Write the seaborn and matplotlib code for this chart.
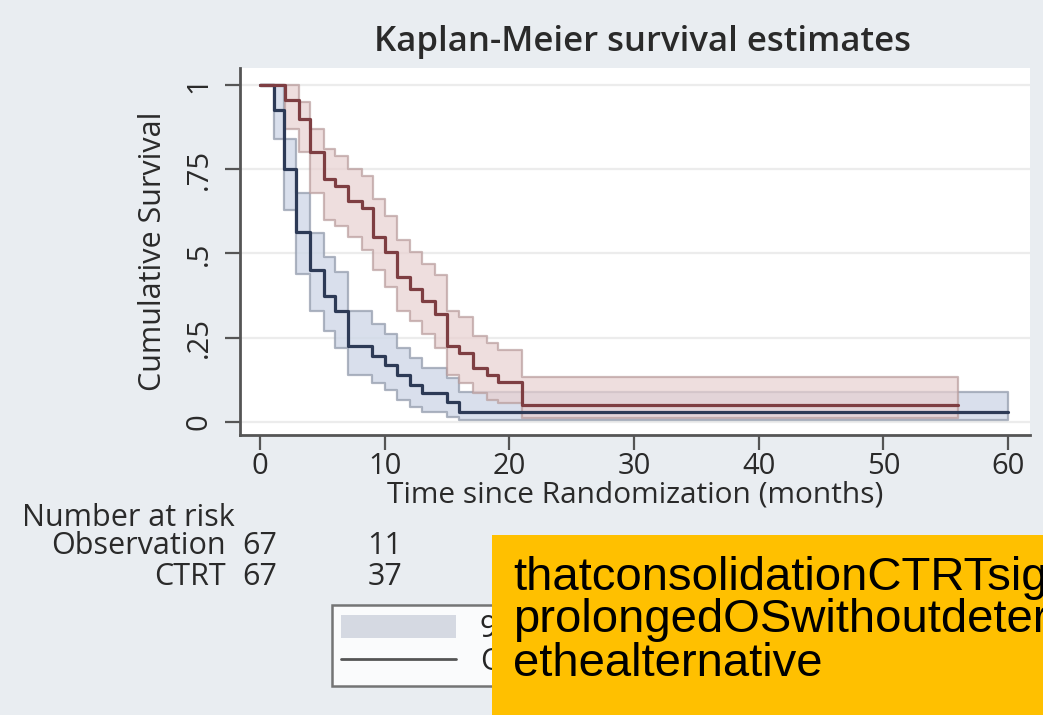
import numpy as np
import pandas as pd
import matplotlib
matplotlib.use("Agg")
import matplotlib.pyplot as plt
import seaborn as sns
from matplotlib.patches import Patch, Rectangle
from matplotlib.lines import Line2D
from matplotlib.transforms import blended_transform_factory

# Observation arm (blue) - step times, survival, 95% CI
obs_time = [0, 1.1, 1.9, 2.9, 4.0, 5.1, 6.0, 7.1, 9.0, 10.0, 11.0, 12.0, 13.0, 15.0, 16.0, 60]
obs_surv = [1.0, 0.925, 0.75, 0.565, 0.45, 0.375, 0.33, 0.225, 0.195, 0.17, 0.14, 0.11, 0.085, 0.06, 0.03, 0.03]
obs_low = [1.0, 0.84, 0.63, 0.44, 0.33, 0.27, 0.22, 0.14, 0.115, 0.095, 0.065, 0.045, 0.03, 0.015, 0.005, 0.005]
obs_up = [1.0, 1.0, 0.84, 0.68, 0.56, 0.49, 0.445, 0.33, 0.29, 0.26, 0.22, 0.19, 0.16, 0.13, 0.09, 0.09]

# CTRT arm (red)
ctrt_time = [0, 2.0, 3.1, 4.0, 5.1, 6.0, 7.1, 8.2, 9.1, 10.0, 11.0, 12.0, 13.0, 14.0, 15.0, 16.0, 17.1, 18.2, 19.1, 21.0, 56]
ctrt_surv = [1.0, 0.955, 0.90, 0.80, 0.72, 0.70, 0.655, 0.635, 0.55, 0.505, 0.43, 0.395, 0.36, 0.32, 0.225, 0.205, 0.16, 0.14, 0.12, 0.05, 0.05]
ctrt_low = [1.0, 0.87, 0.80, 0.68, 0.60, 0.58, 0.55, 0.51, 0.45, 0.40, 0.33, 0.30, 0.26, 0.22, 0.14, 0.115, 0.085, 0.065, 0.055, 0.012, 0.012]
ctrt_up = [1.0, 1.0, 0.95, 0.87, 0.81, 0.79, 0.75, 0.73, 0.66, 0.61, 0.54, 0.505, 0.47, 0.435, 0.33, 0.31, 0.255, 0.235, 0.215, 0.133, 0.133]

risk_times = [0, 10]
risk_obs = [67, 11]
risk_ctrt = [67, 37]

x_ticks = [0, 10, 20, 30, 40, 50, 60]
y_ticks = [0, 0.25, 0.5, 0.75, 1]
y_ticklabels = ["0", ".25", ".5", ".75", "1"]

note_lines = ["thatconsolidationCTRTsig", "prolongedOSwithoutdeter", "ethealternative"]

df = pd.concat([
    pd.DataFrame({"time": obs_time, "surv": obs_surv, "group": "Observation"}),
    pd.DataFrame({"time": ctrt_time, "surv": ctrt_surv, "group": "CTRT"}),
])

bg = "#e9edf1"
txt = "#2a2a2a"
fs = 22
sns.set_style("white")
plt.rcParams["font.family"] = ["Open Sans", "DejaVu Sans"]

fig = plt.figure(figsize=(10.43, 7.15), dpi=100, facecolor=bg)
ax = fig.add_axes([240 / 1043, 1 - 435 / 715, 790 / 1043, 367 / 715])
ax.set_facecolor("white")

# confidence bands
ax.fill_between(obs_time, obs_low, obs_up, step="post", facecolor="#d0d8e8",
                edgecolor="#9aa2b2", lw=1.6, alpha=0.8, zorder=2)
ax.fill_between(ctrt_time, ctrt_low, ctrt_up, step="post", facecolor="#e8d0d0",
                edgecolor="#b89c9c", lw=1.6, alpha=0.7, zorder=3)

sns.lineplot(data=df, x="time", y="surv", hue="group",
             palette={"Observation": "#2d3a56", "CTRT": "#7e3e42"},
             drawstyle="steps-post", lw=2.3, legend=False, ax=ax, zorder=4)

ax.set_xlim(-1.6, 61.76)
ax.set_ylim(-0.0386, 1.05)
ax.set_xticks(x_ticks)
ax.set_yticks(y_ticks)
ax.set_yticklabels(y_ticklabels, rotation=90, va="center")
ax.tick_params(axis="both", direction="out", length=11, width=1.6, color="#555555",
               labelsize=21, labelcolor=txt, left=True, bottom=True, pad=1)
ax.tick_params(axis="y", pad=8)
ax.yaxis.grid(True, color="#ececec", lw=1.6)
for s in ["top", "right"]:
    ax.spines[s].set_visible(False)
for s in ["left", "bottom"]:
    ax.spines[s].set_color("#555555")
    ax.spines[s].set_linewidth(2)

ax.set_xlabel("Time since Randomization (months)", fontsize=21.5, color=txt, labelpad=0)
ax.set_ylabel("Cumulative Survival", fontsize=fs, color=txt, labelpad=12)
fig.text(642 / 1043, 1 - 42 / 715, "Kaplan-Meier survival estimates", ha="center", va="center",
         fontsize=25, fontweight="semibold", color=txt)

# number at risk table
tr = blended_transform_factory(ax.transData, fig.transFigure)
fig.text(22 / 1043, 1 - 518 / 715, "Number at risk", ha="left", va="center", fontsize=fs, color=txt)
fig.text(226 / 1043, 1 - 546 / 715, "Observation", ha="right", va="center", fontsize=fs, color=txt)
fig.text(226 / 1043, 1 - 577 / 715, "CTRT", ha="right", va="center", fontsize=fs, color=txt)
for t, a, b in zip(risk_times, risk_obs, risk_ctrt):
    ax.text(t, 1 - 546 / 715, str(a), transform=tr, ha="center", va="center", fontsize=fs, color=txt)
    ax.text(t, 1 - 577 / 715, str(b), transform=tr, ha="center", va="center", fontsize=fs, color=txt)

handles = [Patch(facecolor="#d5d9e2", edgecolor="none"), Line2D([], [], color="#555555", lw=2)]
leg = fig.legend(handles, ["95% CI", "Observation"], loc="upper left",
                 bbox_to_anchor=(332 / 1043, 1 - 605 / 715), fontsize=fs, frameon=True,
                 fancybox=False, edgecolor="#555555", handlelength=3.75, handleheight=0.75,
                 borderpad=0.3, labelspacing=0.1, borderaxespad=0)
leg.get_frame().set_linewidth(1.8)
leg.set_zorder(5)

# yellow annotation box
fig.patches.append(Rectangle((492 / 1043, 0), 1 - 492 / 1043, 180 / 715, transform=fig.transFigure,
                             facecolor="#ffc000", edgecolor="none", zorder=10))
for line, yb in zip(note_lines, [590, 632, 676]):
    fig.text(513 / 1043, 1 - yb / 715, line, ha="left", va="baseline", fontsize=34,
             family="Liberation Sans", color="black", zorder=11)

fig.savefig("out.png", dpi=100, facecolor=bg)
